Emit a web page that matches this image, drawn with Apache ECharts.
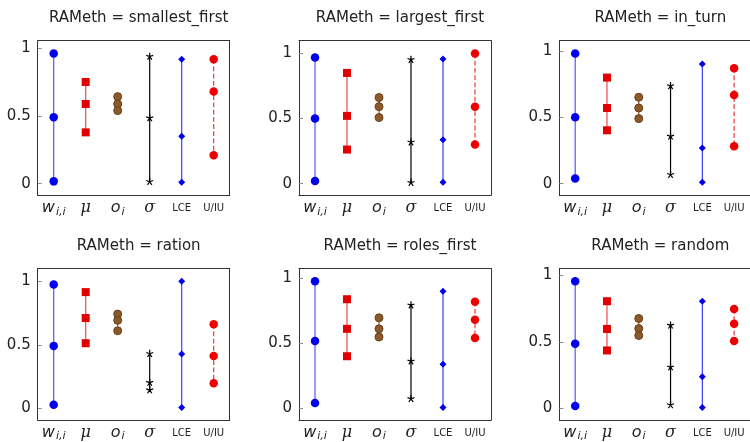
<!DOCTYPE html>
<html>
<head>
<meta charset="utf-8">
<script src="https://cdn.jsdelivr.net/npm/echarts@6/dist/echarts.min.js"></script>
<style>
html,body{margin:0;padding:0;background:#fff;}
#chart{width:750px;height:442px;}
</style>
</head>
<body>
<div id="chart"></div>
<script>
const categories = ['w_{i,i}', 'μ', 'o_i', 'σ', 'LCE', 'U/IU'];
const panelNames = ['smallest_first', 'largest_first', 'in_turn', 'ration', 'roles_first', 'random'];
const yTicks = [0, 0.5, 1];
// each row: one panel (max, mid, min)
const wVals = [[0.958,0.489,0.017],[0.969,0.5,0.02],[0.98,0.5,0.038],[0.974,0.492,0.028],[0.977,0.518,0.04],[0.956,0.486,0.017]];
const muVals = [[0.749,0.587,0.378],[0.851,0.521,0.262],[0.799,0.570,0.402],[0.915,0.711,0.513],[0.839,0.611,0.40],[0.806,0.597,0.435]];
const oVals = [[0.641,0.587,0.538],[0.662,0.592,0.508],[0.651,0.570,0.49],[0.742,0.693,0.611],[0.696,0.611,0.548],[0.676,0.60,0.548]];
const sigmaVals = [[0.939,0.486,0.017],[0.956,0.321,0.01],[0.739,0.359,0.07],[0.433,0.206,0.147],[0.796,0.364,0.075],[0.627,0.312,0.027]];
const lceVals = [[0.916,0.349,0.01],[0.959,0.338,0.01],[0.902,0.269,0.01],[1.0,0.428,0.008],[0.90,0.339,0.006],[0.806,0.236,0.006]];
const uiuVals = [[0.916,0.678,0.209],[1.0,0.592,0.30],[0.869,0.668,0.281],[0.662,0.412,0.198],[0.819,0.681,0.54],[0.747,0.636,0.506]];

const seriesData = [wVals, muVals, oVals, sigmaVals, lceVals, uiuVals];
const starPath = 'path://M50 50 L50 0 M50 50 L97.5 34.5 M50 50 L79.4 90.5 M50 50 L20.6 90.5 M50 50 L2.5 34.5';
const styles = [
  {symbol:'circle', size:8.5, color:'#0000ee', line:'rgba(40,40,255,0.8)', type:'solid'},
  {symbol:'rect', size:8, color:'#e00000', line:'rgba(240,40,40,0.85)', type:'solid'},
  {symbol:'circle', size:8, color:'#8b5a2b', line:'#8b5a2b', type:'solid', border:'#6a4018'},
  {symbol:starPath, size:7, color:'#000', line:'#000', type:'solid', border:'#000', bw:1.2},
  {symbol:'diamond', size:7, color:'#0000ee', line:'rgba(40,40,255,0.9)', type:'solid'},
  {symbol:'circle', size:8.5, color:'#ee0000', line:'rgba(240,30,30,0.9)', type:'dashed'}
];

const lefts = [37.7, 299, 559.3];
const tops = [40.7, 268.7];
const gw = 192, gh = 154.5;
const frame = '#333';
const tickCol = '#8a8a8a';

const labelMap = {
  'w_{i,i}': '{m|w}{s|i,i}',
  'μ': '{g|μ}',
  'o_i': '{m|o}{s|i}',
  'σ': '{g|σ}',
  'LCE': '{t|LCE}',
  'U/IU': '{t|U/IU}'
};

const grids = [], xAxes = [], yAxes = [], series = [], titles = [];
for (let p = 0; p < 6; p++) {
  const col = p % 3, row = Math.floor(p / 3);
  grids.push({left: lefts[col], top: tops[row], width: gw, height: gh, containLabel: false});
  titles.push({
    text: 'RAMeth = ' + panelNames[p],
    left: lefts[col] + gw / 2, top: tops[row] - 35, textAlign: 'center',
    textStyle: {fontFamily: 'DejaVu Sans', fontSize: 15, fontWeight: 'normal', color: '#222'}
  });
  const yMin = v => v.min - 0.1 * (v.max - v.min);
  const yMax = v => v.max + 0.1 * (v.max - v.min);
  xAxes.push({
    type: 'category', gridIndex: p, data: categories, position: 'bottom', boundaryGap: true,
    axisLine: {onZero: false, lineStyle: {color: frame, width: 1}},
    axisTick: {inside: true, alignWithLabel: true, length: 4, lineStyle: {color: tickCol}},
    axisLabel: {
      margin: 5, color: '#222', interval: 0,
      formatter: v => labelMap[v],
      rich: {
        m: {fontFamily: 'DejaVu Sans', fontStyle: 'italic', fontSize: 16, color: '#222', verticalAlign: 'top'},
        g: {fontFamily: 'DejaVu Serif', fontStyle: 'italic', fontSize: 16, color: '#222', verticalAlign: 'top'},
        s: {fontFamily: 'DejaVu Sans', fontStyle: 'italic', fontSize: 11, color: '#222', padding: [6, 0, 0, 1], verticalAlign: 'top'},
        t: {fontFamily: 'DejaVu Sans', fontSize: 10, color: '#222', padding: [3, 0, 0, 0], verticalAlign: 'top'}
      }
    },
    splitLine: {show: false}
  });
  xAxes.push({
    type: 'category', gridIndex: p, data: categories, position: 'top', boundaryGap: true,
    axisLine: {onZero: false, lineStyle: {color: frame, width: 1}},
    axisTick: {inside: true, alignWithLabel: true, length: 4, lineStyle: {color: tickCol}},
    axisLabel: {show: false}, splitLine: {show: false}
  });
  yAxes.push({
    type: 'value', gridIndex: p, position: 'left', min: yMin, max: yMax,
    axisLine: {show: true, onZero: false, lineStyle: {color: frame, width: 1}},
    axisTick: {show: true, inside: true, length: 4, customValues: yTicks, lineStyle: {color: tickCol}},
    axisLabel: {customValues: yTicks, margin: 7, fontFamily: 'DejaVu Sans', fontSize: 15, color: '#222'},
    splitLine: {show: false}
  });
  yAxes.push({
    type: 'value', gridIndex: p, position: 'right', min: yMin, max: yMax,
    axisLine: {show: true, onZero: false, lineStyle: {color: frame, width: 1}},
    axisTick: {show: true, inside: true, length: 4, customValues: yTicks, lineStyle: {color: tickCol}},
    axisLabel: {show: false},
    splitLine: {show: false}
  });
  for (let c = 0; c < 6; c++) {
    const st = styles[c];
    series.push({
      type: 'line', xAxisIndex: p * 2, yAxisIndex: p * 2,
      data: seriesData[c][p].map(v => [c, v]),
      symbol: st.symbol, symbolSize: st.size, showSymbol: true,
      lineStyle: {color: st.line, width: 1.2, type: st.type},
      itemStyle: {color: st.color, borderColor: st.border || st.color, borderWidth: st.bw || (st.border ? 1 : 0)},
      silent: true, animation: false, z: 3
    });
  }
}

const chart = echarts.init(document.getElementById('chart'), null, {renderer: 'canvas'});
chart.setOption({
  backgroundColor: '#fff',
  animation: false,
  title: titles,
  grid: grids,
  xAxis: xAxes,
  yAxis: yAxes,
  series: series
});
</script>
</body>
</html>
